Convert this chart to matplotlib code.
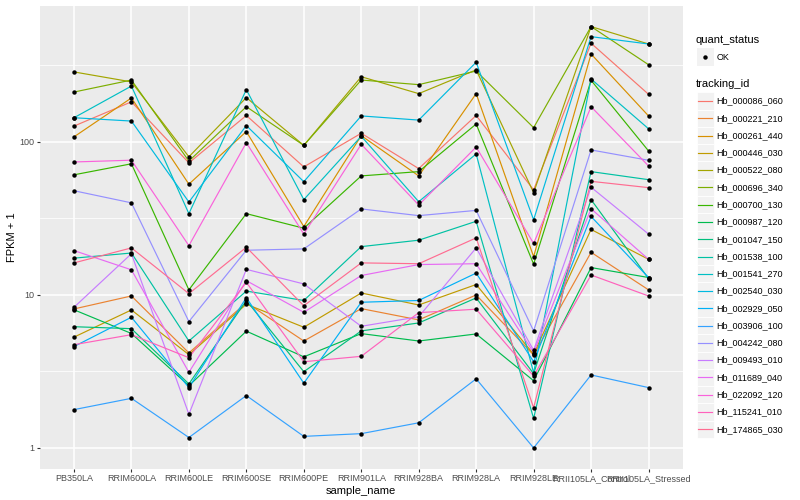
import matplotlib
matplotlib.use('Agg')
import matplotlib.pyplot as plt
from matplotlib.patches import Rectangle
from matplotlib.lines import Line2D
import numpy as np

# ==========================================
# Data (FPKM + 1 per sample)
# ==========================================
sample_names = ['PB350LA', 'RRIM600LA', 'RRIM600LE', 'RRIM600SE', 'RRIM600PE',
                'RRIM901LA', 'RRIM928BA', 'RRIM928LA', 'RRIM928LE',
                'RRII105LA_Control', 'RRII105LA_Stressed']

tracking_ids = ['Hb_000086_060', 'Hb_000221_210', 'Hb_000261_440', 'Hb_000446_030',
                'Hb_000522_080', 'Hb_000696_340', 'Hb_000700_130', 'Hb_000987_120',
                'Hb_001047_150', 'Hb_001538_100', 'Hb_001541_270', 'Hb_002540_030',
                'Hb_002929_050', 'Hb_003906_100', 'Hb_004242_080', 'Hb_009493_010',
                'Hb_011689_040', 'Hb_022092_120', 'Hb_115241_010', 'Hb_174865_030']

hb_000086_060 = [127, 183, 73, 149, 68.7, 114, 67, 149, 48.6, 442, 205]
hb_000221_210 = [8.1, 9.85, 4.18, 8.9, 5.0, 8.14, 6.87, 10.0, 4.05, 19.0, 10.8]
hb_000261_440 = [108, 194, 53, 117, 28, 110, 60, 207, 17.8, 376, 148]
hb_000446_030 = [5.3, 7.98, 4.07, 8.7, 6.15, 10.3, 8.6, 11.7, 4.1, 26.8, 17.1]
hb_000522_080 = [287, 247, 80, 195, 95, 267, 207, 296, 46.6, 568, 437]
hb_000696_340 = [212, 254, 75, 170, 95, 254, 237, 291, 124, 568, 320]
hb_000700_130 = [61, 72, 10.8, 34, 27.3, 60, 64, 131, 15.9, 253, 87.4]
hb_000987_120 = [8.0, 5.6, 2.55, 5.8, 3.94, 5.59, 5.0, 5.56, 2.75, 15.1, 13.0]
hb_001047_150 = [6.2, 6.02, 2.62, 9.2, 3.15, 5.82, 6.56, 9.56, 3.06, 42, 12.8]
hb_001538_100 = [17.4, 18.8, 5.0, 10.6, 9.2, 20.7, 22.8, 30.3, 1.56, 64, 56.7]
hb_001541_270 = [144, 232, 34, 220, 42, 109, 40.7, 83.5, 3.1, 258, 122]
hb_002540_030 = [144, 137, 40.5, 128, 55, 148, 139, 332, 31, 488, 437]
hb_002929_050 = [4.6, 7.15, 2.48, 9.6, 2.65, 8.96, 9.2, 13.9, 3.66, 32.6, 13.0]
hb_003906_100 = [1.78, 2.11, 1.17, 2.2, 1.19, 1.24, 1.46, 2.83, 1.0, 3.0, 2.48]
hb_004242_080 = [48, 40, 6.7, 19.6, 20, 36.5, 33, 35.7, 5.82, 88.7, 75.9]
hb_009493_010 = [8.3, 18.6, 1.66, 14.7, 11.8, 6.24, 7.2, 20.3, 4.35, 50.6, 25]
hb_011689_040 = [19.5, 14.6, 3.12, 12.4, 7.7, 13.4, 15.8, 16.0, 4.2, 36.6, 17.1]
hb_022092_120 = [74, 76, 21, 99, 25, 96.6, 38.7, 92.7, 21.7, 170, 69.7]
hb_115241_010 = [4.73, 5.5, 3.89, 12.1, 3.66, 3.97, 7.66, 8.07, 2.95, 13.5, 9.85]
hb_174865_030 = [16.2, 20.3, 10.2, 20.5, 8.5, 16.2, 16.0, 23.6, 1.83, 55.3, 50.3]

series = [hb_000086_060, hb_000221_210, hb_000261_440, hb_000446_030, hb_000522_080,
          hb_000696_340, hb_000700_130, hb_000987_120, hb_001047_150, hb_001538_100,
          hb_001541_270, hb_002540_030, hb_002929_050, hb_003906_100, hb_004242_080,
          hb_009493_010, hb_011689_040, hb_022092_120, hb_115241_010, hb_174865_030]

# ggplot2 default hue palette, 20 levels
palette = ['#F8766D', '#EA8331', '#D89000', '#C09B00', '#A3A500', '#7CAE00', '#39B600',
           '#00BB4E', '#00BF7D', '#00C1A3', '#00BFC4', '#00BAE0', '#00B0F6', '#35A2FF',
           '#9590FF', '#C77CFF', '#E76BF3', '#FA62DB', '#FF62BC', '#FF6C91']

W, H = 800, 500


def fx(px):
    return px / W


def fy(py):
    return 1 - py / H


def plot_chart():
    plt.rcParams['font.family'] = ['Liberation Sans', 'DejaVu Sans']

    fig = plt.figure(figsize=(8, 5), dpi=100)
    left, right, top, bottom = 39.5, 683, 5.5, 469
    ax = fig.add_axes([fx(left), fy(bottom), fx(right - left), (bottom - top) / H])
    ax.set_facecolor('#EBEBEB')

    for vals, col in zip(series, palette):
        ax.plot(sample_names, vals, color=col, lw=0.85, zorder=3)
    for vals in series:
        ax.plot(sample_names, vals, 'o', color='black', ms=3.2, mew=0, zorder=4)

    # log scale with ggplot-like 5% expansion
    ax.set_yscale('log')
    all_vals = np.concatenate([np.asarray(s, float) for s in series])
    lo, hi = np.log10(all_vals.min()), np.log10(all_vals.max())
    pad = 0.05 * (hi - lo)
    ax.set_ylim(10 ** (lo - pad), 10 ** (hi + pad))
    ax.set_xlim(-0.6, len(sample_names) - 0.4)

    ax.set_yticks([1, 10, 100])
    ax.set_yticklabels(['1', '10', '100'])
    ax.set_yticks([10 ** 0.5, 10 ** 1.5, 10 ** 2.5], minor=True)
    ax.grid(True, which='major', color='white', lw=1.1, zorder=0)
    ax.grid(True, which='minor', axis='y', color='white', lw=0.55, zorder=0)
    ax.set_axisbelow(True)
    for sp in ax.spines.values():
        sp.set_visible(False)
    ax.tick_params(which='major', length=2.2, width=0.8, color='#333333',
                   labelsize=6.5, labelcolor='#4D4D4D', pad=1.5)
    ax.tick_params(which='minor', length=0)

    ax.set_xlabel('sample_name', fontsize=8, labelpad=2)
    ax.set_ylabel('FPKM + 1', fontsize=8, labelpad=1.5)

    # Legend (built by hand to look like ggplot keys)
    fig.text(fx(696), fy(40), 'quant_status', fontsize=8, va='center')
    fig.patches.append(Rectangle((fx(696.5), fy(65.5)), 17 / W, 17 / H,
                                 transform=fig.transFigure, facecolor='#F2F2F2',
                                 edgecolor='none'))
    fig.lines.append(Line2D([fx(705)], [fy(57)], marker='o', ms=3.2, mew=0,
                            color='black', transform=fig.transFigure))
    fig.text(fx(716.5), fy(57), 'OK', fontsize=6.5, va='center')

    fig.text(fx(696), fy(84), 'tracking_id', fontsize=8, va='center')
    step = 17.28
    for i, (name, col) in enumerate(zip(tracking_ids, palette)):
        yc = 101 + i * step
        fig.patches.append(Rectangle((fx(696.5), fy(yc + step / 2)), 17 / W, step / H,
                                     transform=fig.transFigure, facecolor='#F2F2F2',
                                     edgecolor='white', lw=0.6))
        fig.lines.append(Line2D([fx(698), fx(712)], [fy(yc), fy(yc)], color=col, lw=0.85,
                                transform=fig.transFigure))
        fig.text(fx(716.5), fy(yc), name, fontsize=6.5, va='center')

    fig.savefig('out.png', dpi=100)
    plt.close(fig)


if __name__ == "__main__":
    plot_chart()
